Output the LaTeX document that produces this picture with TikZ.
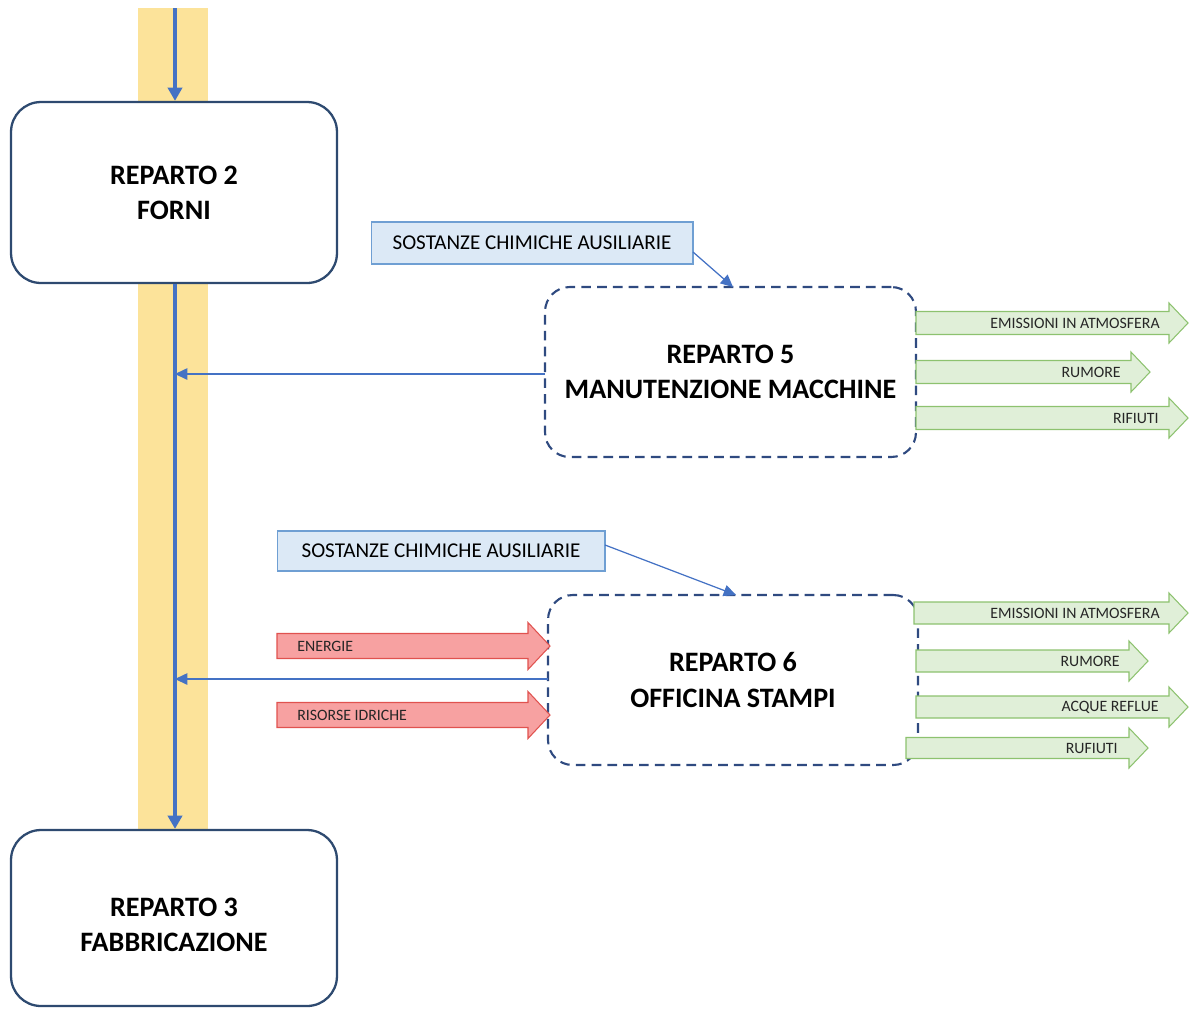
\documentclass[tikz,border=0pt]{standalone}
\usepackage{fontspec}
\setmainfont{Carlito}
\usetikzlibrary{arrows.meta}
\definecolor{band}{HTML}{FCE39A}
\definecolor{flow}{HTML}{4472C4}
\definecolor{boxline}{HTML}{2E4A70}
\definecolor{dashline}{HTML}{2F4A80}
\definecolor{lblfill}{HTML}{DCE9F6}
\definecolor{lblline}{HTML}{6F9FD3}
\definecolor{gfill}{HTML}{E0EFD8}
\definecolor{gline}{HTML}{8DC26F}
\definecolor{rfill}{HTML}{F7A1A1}
\definecolor{rline}{HTML}{E0524F}
\tikzset{
  mainbox/.style={draw=boxline, line width=1.3pt, rounded corners=17pt, fill=white,
    align=center, font=\fontsize{16}{20}\selectfont\bfseries},
  dashbox/.style={draw=dashline, line width=1.2pt, dash pattern=on 5.5pt off 3.5pt,
    rounded corners=14pt, fill=white, align=center, font=\fontsize{16}{20}\selectfont\bfseries},
  lblbox/.style={draw=lblline, line width=0.6pt, fill=lblfill, font=\fontsize{12}{14}\selectfont},
  mainflow/.style={draw=flow, line width=2pt, -{Triangle[length=7.5pt,width=8pt]}},
  thinflow/.style={draw=flow, line width=0.7pt, -{Triangle[length=7pt,width=6.5pt]}},
  greenarr/.style={draw=gline, fill=gfill, line width=0.6pt},
  redarr/.style={draw=rline, fill=rfill, line width=0.6pt},
  arrtxt/.style={font=\fontsize{9}{10}\selectfont, inner sep=0pt, text=black!85}
}
% #1 x start, #2 x tip, #3 y centre, #4 style, #5 half body, #6 half head, #7 head length
\newcommand{\blockarr}[7]{%
  \draw[#4] (#1,#3-#5) -- (#2-#7,#3-#5) -- (#2-#7,#3-#6) -- (#2,#3) -- (#2-#7,#3+#6)
    -- (#2-#7,#3+#5) -- (#1,#3+#5) -- cycle;}
\begin{document}
\begin{tikzpicture}[x=0.02cm, y=-0.02cm]
\useasboundingbox (0,0) rectangle (1189,1008);
% yellow band
\fill[band] (138,8) rectangle (208,830);
\coordinate (top) at (175,8);
\coordinate (spine) at (175,500);
% main boxes
\node[mainbox, minimum width=6.52cm, minimum height=3.62cm] (r2) at (174,192.5) {REPARTO 2\\FORNI};
\node[mainbox, minimum width=6.52cm, minimum height=3.52cm] (r3) at (174,918) {\\[-2pt]REPARTO 3\\FABBRICAZIONE};
% spine arrows
\draw[mainflow] (top) -- (top |- r2.north);
\draw[mainflow] (spine |- r2.south) -- (spine |- r3.north);
% dashed boxes
\node[dashbox, minimum width=7.42cm, minimum height=3.4cm] (r5) at (730.5,372) {REPARTO 5\\MANUTENZIONE MACCHINE};
\node[dashbox, minimum width=7.4cm, minimum height=3.4cm] (r6) at (733,680) {REPARTO 6\\OFFICINA STAMPI};
% label boxes
\node[lblbox, minimum width=6.44cm, minimum height=0.84cm] (l1) at (532,243) {SOSTANZE CHIMICHE AUSILIARIE};
\node[lblbox, minimum width=6.56cm, minimum height=0.8cm] (l2) at (441,551) {SOSTANZE CHIMICHE AUSILIARIE};
\coordinate (t5) at (733,287);
\coordinate (t6) at (736,595);
\coordinate (s1) at (693,252);
\coordinate (s2) at (605,545);
\draw[thinflow] (s1) -- (t5);
\draw[thinflow] (s2) -- (t6);
% flows back to spine
\draw[thinflow] (545,374) -- (spine |- 0,374);
\draw[thinflow] (548,679) -- (spine |- 0,679);
% green arrows box 5
\blockarr{916}{1188}{323}{greenarr}{11.5}{20}{19}
\blockarr{916}{1150}{372}{greenarr}{11.5}{20}{19}
\blockarr{916}{1188}{418}{greenarr}{11.5}{20}{19}
\node[arrtxt, anchor=east] (g1) at (1160,323) {EMISSIONI IN ATMOSFERA};
\node[arrtxt, anchor=east] (g2) at (1121,372) {RUMORE};
\node[arrtxt, anchor=east] (g3) at (1159,418) {RIFIUTI};
% green arrows box 6
\blockarr{914}{1188}{613}{greenarr}{11}{20}{19}
\blockarr{916}{1148}{661}{greenarr}{11}{20}{19}
\blockarr{916}{1188}{707}{greenarr}{11}{20}{19}
\blockarr{906}{1148}{748}{greenarr}{10.5}{20}{19}
\node[arrtxt, anchor=east] (g4) at (1160,613) {EMISSIONI IN ATMOSFERA};
\node[arrtxt, anchor=east] (g5) at (1120,661) {RUMORE};
\node[arrtxt, anchor=east] (g6) at (1159,707) {ACQUE REFLUE};
\node[arrtxt, anchor=east] (g7) at (1118,748) {RUFIUTI};
% red arrows
\blockarr{277}{550}{646}{redarr}{12.5}{23.5}{22}
\blockarr{277}{550}{715}{redarr}{12.5}{23.5}{22}
\node[arrtxt, anchor=west] (e1) at (297,646) {ENERGIE};
\node[arrtxt, anchor=west] (e2) at (297,715) {RISORSE IDRICHE};
\end{tikzpicture}
\end{document}
